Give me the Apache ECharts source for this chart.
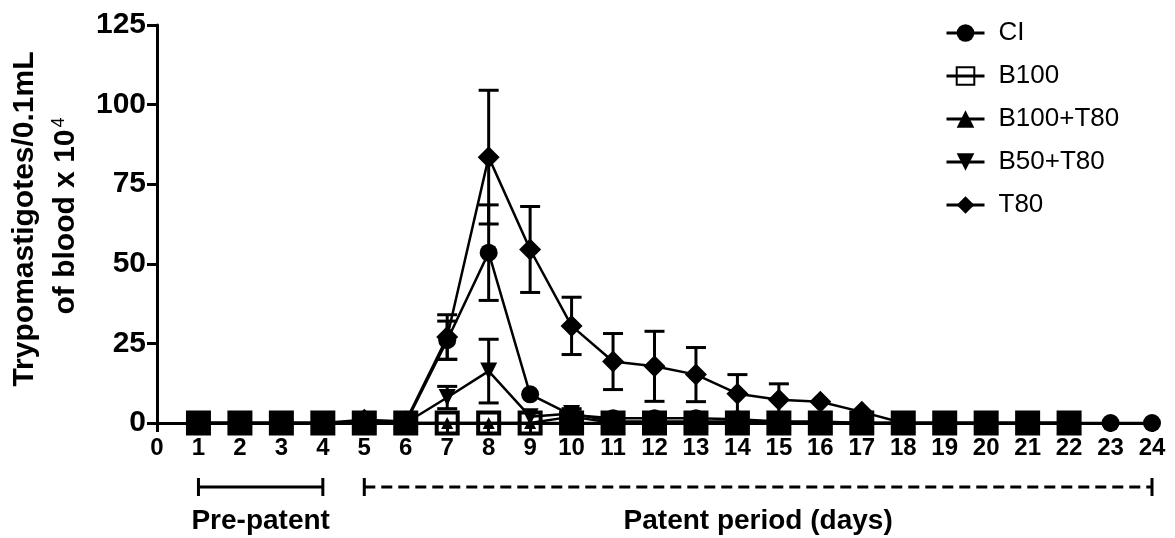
<!DOCTYPE html>
<html>
<head>
<meta charset="utf-8">
<script src="https://cdn.jsdelivr.net/npm/echarts@6/dist/echarts.min.js"></script>
<style>
  html, body { margin: 0; padding: 0; background: #fff; }
  #chart { width: 1175px; height: 538px; }
</style>
</head>
<body>
<div id="chart"></div>
<script>
// Parasitaemia by day (mean and SEM), trypomastigotes/0.1 mL of blood x 10^4
const days = [1, 2, 3, 4, 5, 6, 7, 8, 9, 10, 11, 12, 13, 14, 15, 16, 17, 18, 19, 20, 21, 22, 23, 24];

const ciMean      = [0, 0, 0, 0, 0.5, 0, 26, 53.5, 9, 2.5, 1.5, 1.5, 1.5, 1.2, 0.5, 0.5, 0, 0, 0, 0, 0, 0, 0, 0];
const ciErr       = [0, 0, 0, 0, 0, 0, 6, 15, 0, 0, 0, 0, 0, 0, 0, 0, 0, 0, 0, 0, 0, 0, 0, 0];

const b100Mean    = [0, 0, 0, 0, 0, 0, 0, 0, 0, 0, 0, 0, 0, 0, 0, 0, 0, 0, 0, 0, 0, 0, null, null];
const b100Err     = [0, 0, 0, 0, 0, 0, 0, 0, 0, 0, 0, 0, 0, 0, 0, 0, 0, 0, 0, 0, 0, 0, null, null];

const b100t80Mean = [0, 0, 0, 0, 0.5, 0, 0, 0, 0, 2, 0, 0, 0, 0.5, 0, 0, 0, 0, 0, 0, 0, 0, null, null];
const b100t80Err  = [0, 0, 0, 0, 0, 0, 0, 0, 0, 1.5, 0, 0, 0, 0, 0, 0, 0, 0, 0, 0, 0, 0, null, null];

const b50t80Mean  = [0, 0, 0, 0, 0.5, 0, 8, 16.3, 2, 3, 0.5, 0.5, 0.5, 0.5, 0, 0, 0, 0, 0, 0, 0, 0, null, null];
const b50t80Err   = [0, 0, 0, 0, 0, 0, 3.5, 10, 0, 1.5, 0, 0, 0, 0, 0, 0, 0, 0, 0, 0, 0, 0, null, null];

const t80Mean     = [0, 0, 0, 0, 1, 0.5, 27, 83.5, 54.5, 30.5, 19.3, 17.8, 15.2, 9.2, 7.3, 6.7, 3.5, 0, 0, 0, 0, 0, null, null];
const t80Err      = [0, 0, 0, 0, 0, 0, 7, 21, 13.5, 9, 8.8, 11, 8.5, 6, 5, 0, 0, 0, 0, 0, 0, 0, null, null];

const xTicks = { min: 0, max: 24, step: 1 };
const yTicks = { min: 0, max: 125, step: 25 };

const seriesNames = ['CI', 'B100', 'B100+T80', 'B50+T80', 'T80'];

const BOLD = "'Liberation Sans', Arial, sans-serif";
const NARROW = "'Liberation Sans Narrow', 'Arial Narrow', 'Liberation Sans', Arial, sans-serif";

function pairs(mean) {
  return days.map((d, i) => mean[i] == null ? null : [d, mean[i]]).filter(p => p);
}
function errTriples(mean, err) {
  return days.map((d, i) => (mean[i] == null || !err[i]) ? null : [d, mean[i], err[i]]).filter(p => p);
}

// Open squares look solid where the filled CI circle lies on top of them
function b100Points() {
  return days.map((d, i) => {
    if (b100Mean[i] == null) return null;
    const covered = ciMean[i] != null && Math.abs(ciMean[i] - b100Mean[i]) <= 3;
    return covered
      ? { value: [d, b100Mean[i]], itemStyle: { color: '#000' } }
      : { value: [d, b100Mean[i]] };
  }).filter(p => p);
}

function errorBarSeries(mean, err) {
  return {
    type: 'custom',
    z: 1,
    silent: true,
    encode: { x: 0, y: 1 },
    data: errTriples(mean, err),
    renderItem: function (params, api) {
      const x = api.value(0), m = api.value(1), e = api.value(2);
      const top = api.coord([x, m + e]);
      const bot = api.coord([x, Math.max(m - e, 0)]);
      const hw = 10;
      const style = { stroke: '#000', lineWidth: 3 };
      return {
        type: 'group',
        children: [
          { type: 'line', shape: { x1: top[0], y1: top[1], x2: bot[0], y2: bot[1] }, style },
          { type: 'line', shape: { x1: top[0] - hw, y1: top[1], x2: top[0] + hw, y2: top[1] }, style },
          { type: 'line', shape: { x1: bot[0] - hw, y1: bot[1], x2: bot[0] + hw, y2: bot[1] }, style }
        ]
      };
    }
  };
}

function lineSeries(name, data, symbol, size, z, hollow) {
  return {
    name: name,
    type: 'line',
    z: z,
    data: data,
    symbol: symbol,
    symbolSize: size,
    showAllSymbol: true,
    lineStyle: { color: '#000', width: 2.5 },
    itemStyle: hollow
      ? { color: 'rgba(255,255,255,0)', borderColor: '#000', borderWidth: 4 }
      : { color: '#000', borderColor: '#000', borderWidth: 0 },
    emphasis: { disabled: true },
    animation: false
  };
}

const chart = echarts.init(document.getElementById('chart'), null, { renderer: 'canvas' });

chart.setOption({
  animation: false,
  backgroundColor: '#fff',
  grid: { left: 157, right: 23, top: 25, bottom: 115, containLabel: false },
  xAxis: {
    type: 'value',
    min: xTicks.min, max: xTicks.max, interval: xTicks.step,
    splitLine: { show: false },
    axisLine: { onZero: false, lineStyle: { color: '#000', width: 3 } },
    axisTick: { show: true, length: 9, lineStyle: { color: '#000', width: 3 } },
    axisLabel: { color: '#000', fontWeight: 'bold', fontSize: 24, fontFamily: NARROW, margin: 13 }
  },
  yAxis: {
    type: 'value',
    min: yTicks.min, max: yTicks.max, interval: yTicks.step,
    splitLine: { show: false },
    axisLine: { show: true, lineStyle: { color: '#000', width: 3 } },
    axisTick: { show: true, length: 10, lineStyle: { color: '#000', width: 3 } },
    axisLabel: { color: '#000', fontWeight: 'bold', fontSize: 30, fontFamily: BOLD, margin: 11 }
  },
  legend: {
    data: seriesNames,
    orient: 'vertical',
    left: 940,
    top: 14,
    itemWidth: 38,
    itemHeight: 22,
    itemGap: 15,
    selectedMode: false,
    lineStyle: { width: 3 },
    textStyle: { color: '#000', fontSize: 26, fontFamily: BOLD, lineHeight: 28, padding: [0, 0, 0, 9] }
  },
  series: [
    errorBarSeries(b100Mean, b100Err),
    errorBarSeries(b100t80Mean, b100t80Err),
    errorBarSeries(b50t80Mean, b50t80Err),
    errorBarSeries(ciMean, ciErr),
    errorBarSeries(t80Mean, t80Err),
    lineSeries('CI', pairs(ciMean), 'circle', 18, 4, false),
    lineSeries('B100', b100Points(), 'rect', 21, 2, true),
    lineSeries('B100+T80', pairs(b100t80Mean), 'triangle', 12, 3, false),
    lineSeries('B50+T80', pairs(b50t80Mean), 'path://M0,0L2,0L1,1.8Z', 17, 4, false),
    lineSeries('T80', pairs(t80Mean), 'diamond', 22, 5, false)
  ]
});

// Period brackets below the day axis and the rotated y-axis title
function px(day) { return chart.convertToPixel({ xAxisIndex: 0 }, day); }
const yBar = 487, capH = 9, lw = 3;
const preA = px(1), preB = px(4), patA = px(5), patB = px(24);

chart.setOption({
  graphic: [
    { type: 'line', shape: { x1: preA, y1: yBar, x2: preB, y2: yBar }, style: { stroke: '#000', lineWidth: lw } },
    { type: 'line', shape: { x1: preA, y1: yBar - capH, x2: preA, y2: yBar + capH }, style: { stroke: '#000', lineWidth: lw } },
    { type: 'line', shape: { x1: preB, y1: yBar - capH, x2: preB, y2: yBar + capH }, style: { stroke: '#000', lineWidth: lw } },
    { type: 'line', shape: { x1: patA, y1: yBar, x2: patB, y2: yBar }, style: { stroke: '#000', lineWidth: lw, lineDash: [11, 6] } },
    { type: 'line', shape: { x1: patA, y1: yBar - capH, x2: patA, y2: yBar + capH }, style: { stroke: '#000', lineWidth: lw } },
    { type: 'line', shape: { x1: patB, y1: yBar - capH, x2: patB, y2: yBar + capH }, style: { stroke: '#000', lineWidth: lw } },
    {
      type: 'text', x: (preA + preB) / 2, y: 521,
      style: { text: 'Pre-patent', fill: '#000', font: "bold 28px " + NARROW, textAlign: 'center', textVerticalAlign: 'middle' }
    },
    {
      type: 'text', x: (patA + patB) / 2, y: 521,
      style: { text: 'Patent period (days)', fill: '#000', font: "bold 28px " + NARROW, textAlign: 'center', textVerticalAlign: 'middle' }
    },
    {
      type: 'text', x: 25, y: 219, rotation: Math.PI / 2,
      style: { text: 'Trypomastigotes/0.1mL', fill: '#000', font: "bold 30px " + BOLD, textAlign: 'center', textVerticalAlign: 'middle' }
    },
    {
      type: 'text', x: 66, y: 216, rotation: Math.PI / 2,
      style: {
        text: 'of blood x 10{sup|4}',
        fill: '#000', font: "bold 30px " + BOLD, textAlign: 'center', textVerticalAlign: 'middle',
        rich: { sup: { fontSize: 18, fontWeight: 'normal', fontFamily: BOLD, verticalAlign: 'top', padding: [0, 0, 14, 2] } }
      }
    }
  ]
});
</script>
</body>
</html>
